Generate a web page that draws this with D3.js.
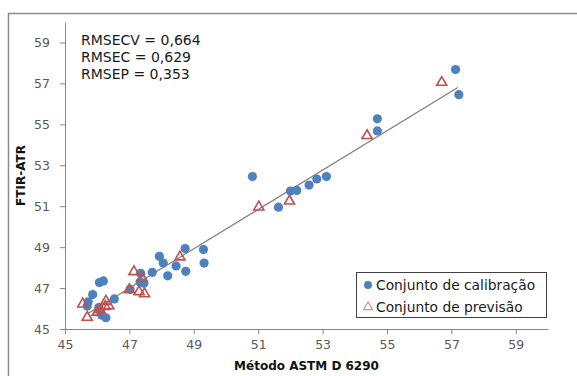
<!DOCTYPE html>
<html>
<head>
<meta charset="utf-8">
<script src="https://cdn.jsdelivr.net/npm/d3@7"></script>
<style>
  html, body { margin: 0; padding: 0; background: #fff; }
  svg { display: block; font-family: "DejaVu Sans", Verdana, sans-serif; }
</style>
</head>
<body>
<div id="chart"></div>
<script>
// Calibration set: reference method (x) vs FTIR-ATR prediction (y)
const calibX = [45.69, 45.72, 45.86, 46.07, 46.19, 46.05, 46.10, 46.14, 46.27, 46.53,
                47.02, 47.35, 47.33, 47.45, 47.71, 47.93, 48.05, 48.19, 48.45, 48.73,
                48.75, 49.30, 49.32, 50.82, 51.63, 52.00, 52.20, 52.58, 52.82, 53.12,
                54.70, 54.70, 57.13, 57.23];
const calibY = [46.12, 46.33, 46.68, 47.27, 47.35, 46.05, 45.85, 45.68, 45.55, 46.47,
                46.94, 47.72, 47.30, 47.24, 47.77, 48.55, 48.22, 47.60, 48.08, 48.93,
                47.82, 48.88, 48.22, 52.45, 50.95, 51.74, 51.77, 52.03, 52.33, 52.45,
                55.27, 54.68, 57.68, 56.45];

// Prediction (validation) set
const predX = [45.55, 45.69, 46.00, 46.08, 46.27, 46.36, 46.25, 47.00, 47.14, 47.40,
               47.30, 47.47, 48.57, 51.02, 51.97, 54.38, 56.70];
const predY = [46.22, 45.57, 45.82, 45.95, 46.36, 46.13, 46.10, 46.92, 47.80, 47.48,
               46.82, 46.72, 48.52, 50.96, 51.25, 54.45, 57.05];

// Regression line end points
const fitX = [45.70, 57.20];
const fitY = [45.75, 56.80];

const xTicks = [45, 47, 49, 51, 53, 55, 57, 59];
const yTicks = [45, 47, 49, 51, 53, 55, 57, 59];
const xDomain = [45, 60];
const yDomain = [45, 60];

const statsLines = ["RMSECV = 0,664", "RMSEC = 0,629", "RMSEP = 0,353"];
const legendLabels = ["Conjunto de calibração", "Conjunto de previsão"];
const xTitle = "Método ASTM D 6290";
const yTitle = "FTIR-ATR";

const W = 577, H = 376;
const blue = "#4f81bd", red = "#c0504d", axisGrey = "#868686", tickText = "#595959";

const svg = d3.select("#chart").append("svg").attr("width", W).attr("height", H);

// chart frame
svg.append("rect").attr("x", 8.5).attr("y", 13.5).attr("width", 620).attr("height", 420)
  .attr("fill", "none").attr("stroke", "#8c8c8c").attr("stroke-width", 1.5);

const x = d3.scaleLinear().domain(xDomain).range([65, 548]);
const y = d3.scaleLinear().domain(yDomain).range([329, 22]);

const xAxis = svg.append("g").attr("transform", `translate(0,${y(45)})`)
  .call(d3.axisBottom(x).tickValues(xTicks).tickSize(5).tickSizeOuter(0).tickPadding(6));
const yAxis = svg.append("g").attr("transform", `translate(${x(45)},0)`)
  .call(d3.axisLeft(y).tickValues(yTicks).tickSize(5).tickSizeOuter(0).tickPadding(10));
[xAxis, yAxis].forEach(g => {
  g.select(".domain").attr("stroke", axisGrey);
  g.selectAll(".tick line").attr("stroke", axisGrey);
  g.selectAll(".tick text").attr("fill", tickText).style("font-size", "12.5px")
    .style("font-family", "DejaVu Sans, Verdana, sans-serif");
});

// axis titles
svg.append("text").attr("x", (x(45) + x(60)) / 2).attr("y", 370)
  .attr("text-anchor", "middle").attr("font-weight", "bold").attr("font-size", 12)
  .attr("fill", "#111").text(xTitle);
svg.append("text").attr("transform", `translate(25,${(y(45) + y(60)) / 2}) rotate(-90)`)
  .attr("text-anchor", "middle").attr("font-weight", "bold").attr("font-size", 12)
  .attr("fill", "#111").text(yTitle);

// regression line
svg.append("line")
  .attr("x1", x(fitX[0])).attr("y1", y(fitY[0]))
  .attr("x2", x(fitX[1])).attr("y2", y(fitY[1]))
  .attr("stroke", "#7f7f7f").attr("stroke-width", 1.2);

// calibration points
svg.append("g").selectAll("circle").data(d3.range(calibX.length)).join("circle")
  .attr("cx", i => x(calibX[i])).attr("cy", i => y(calibY[i])).attr("r", 4.6)
  .attr("fill", blue);

// prediction points
const tri = d3.symbol().type(d3.symbolTriangle).size(44);
svg.append("g").selectAll("path").data(d3.range(predX.length)).join("path")
  .attr("d", tri)
  .attr("transform", i => `translate(${x(predX[i])},${y(predY[i])})`)
  .attr("fill", "none").attr("stroke", red).attr("stroke-width", 1.6);

// statistics block
svg.append("g").selectAll("text").data(statsLines).join("text")
  .attr("x", 81).attr("y", (d, i) => 45 + i * 17)
  .attr("font-size", 14).attr("fill", "#1a1a1a").text(d => d);

// legend
const lg = svg.append("g");
lg.append("rect").attr("x", 356.5).attr("y", 272.5).attr("width", 190).attr("height", 45)
  .attr("fill", "#fff").attr("stroke", "#404040").attr("stroke-width", 1);
lg.append("circle").attr("cx", 368).attr("cy", 285).attr("r", 4).attr("fill", blue);
lg.append("path").attr("d", d3.symbol().type(d3.symbolTriangle).size(34))
  .attr("transform", "translate(368,307)")
  .attr("fill", "none").attr("stroke", "#d98c8a").attr("stroke-width", 1.2);
lg.selectAll("text.lab").data(legendLabels).join("text").attr("class", "lab")
  .attr("x", 376).attr("y", (d, i) => 290 + i * 21.5)
  .attr("font-size", 13.8).attr("fill", "#1a1a1a").text(d => d);
</script>
</body>
</html>
